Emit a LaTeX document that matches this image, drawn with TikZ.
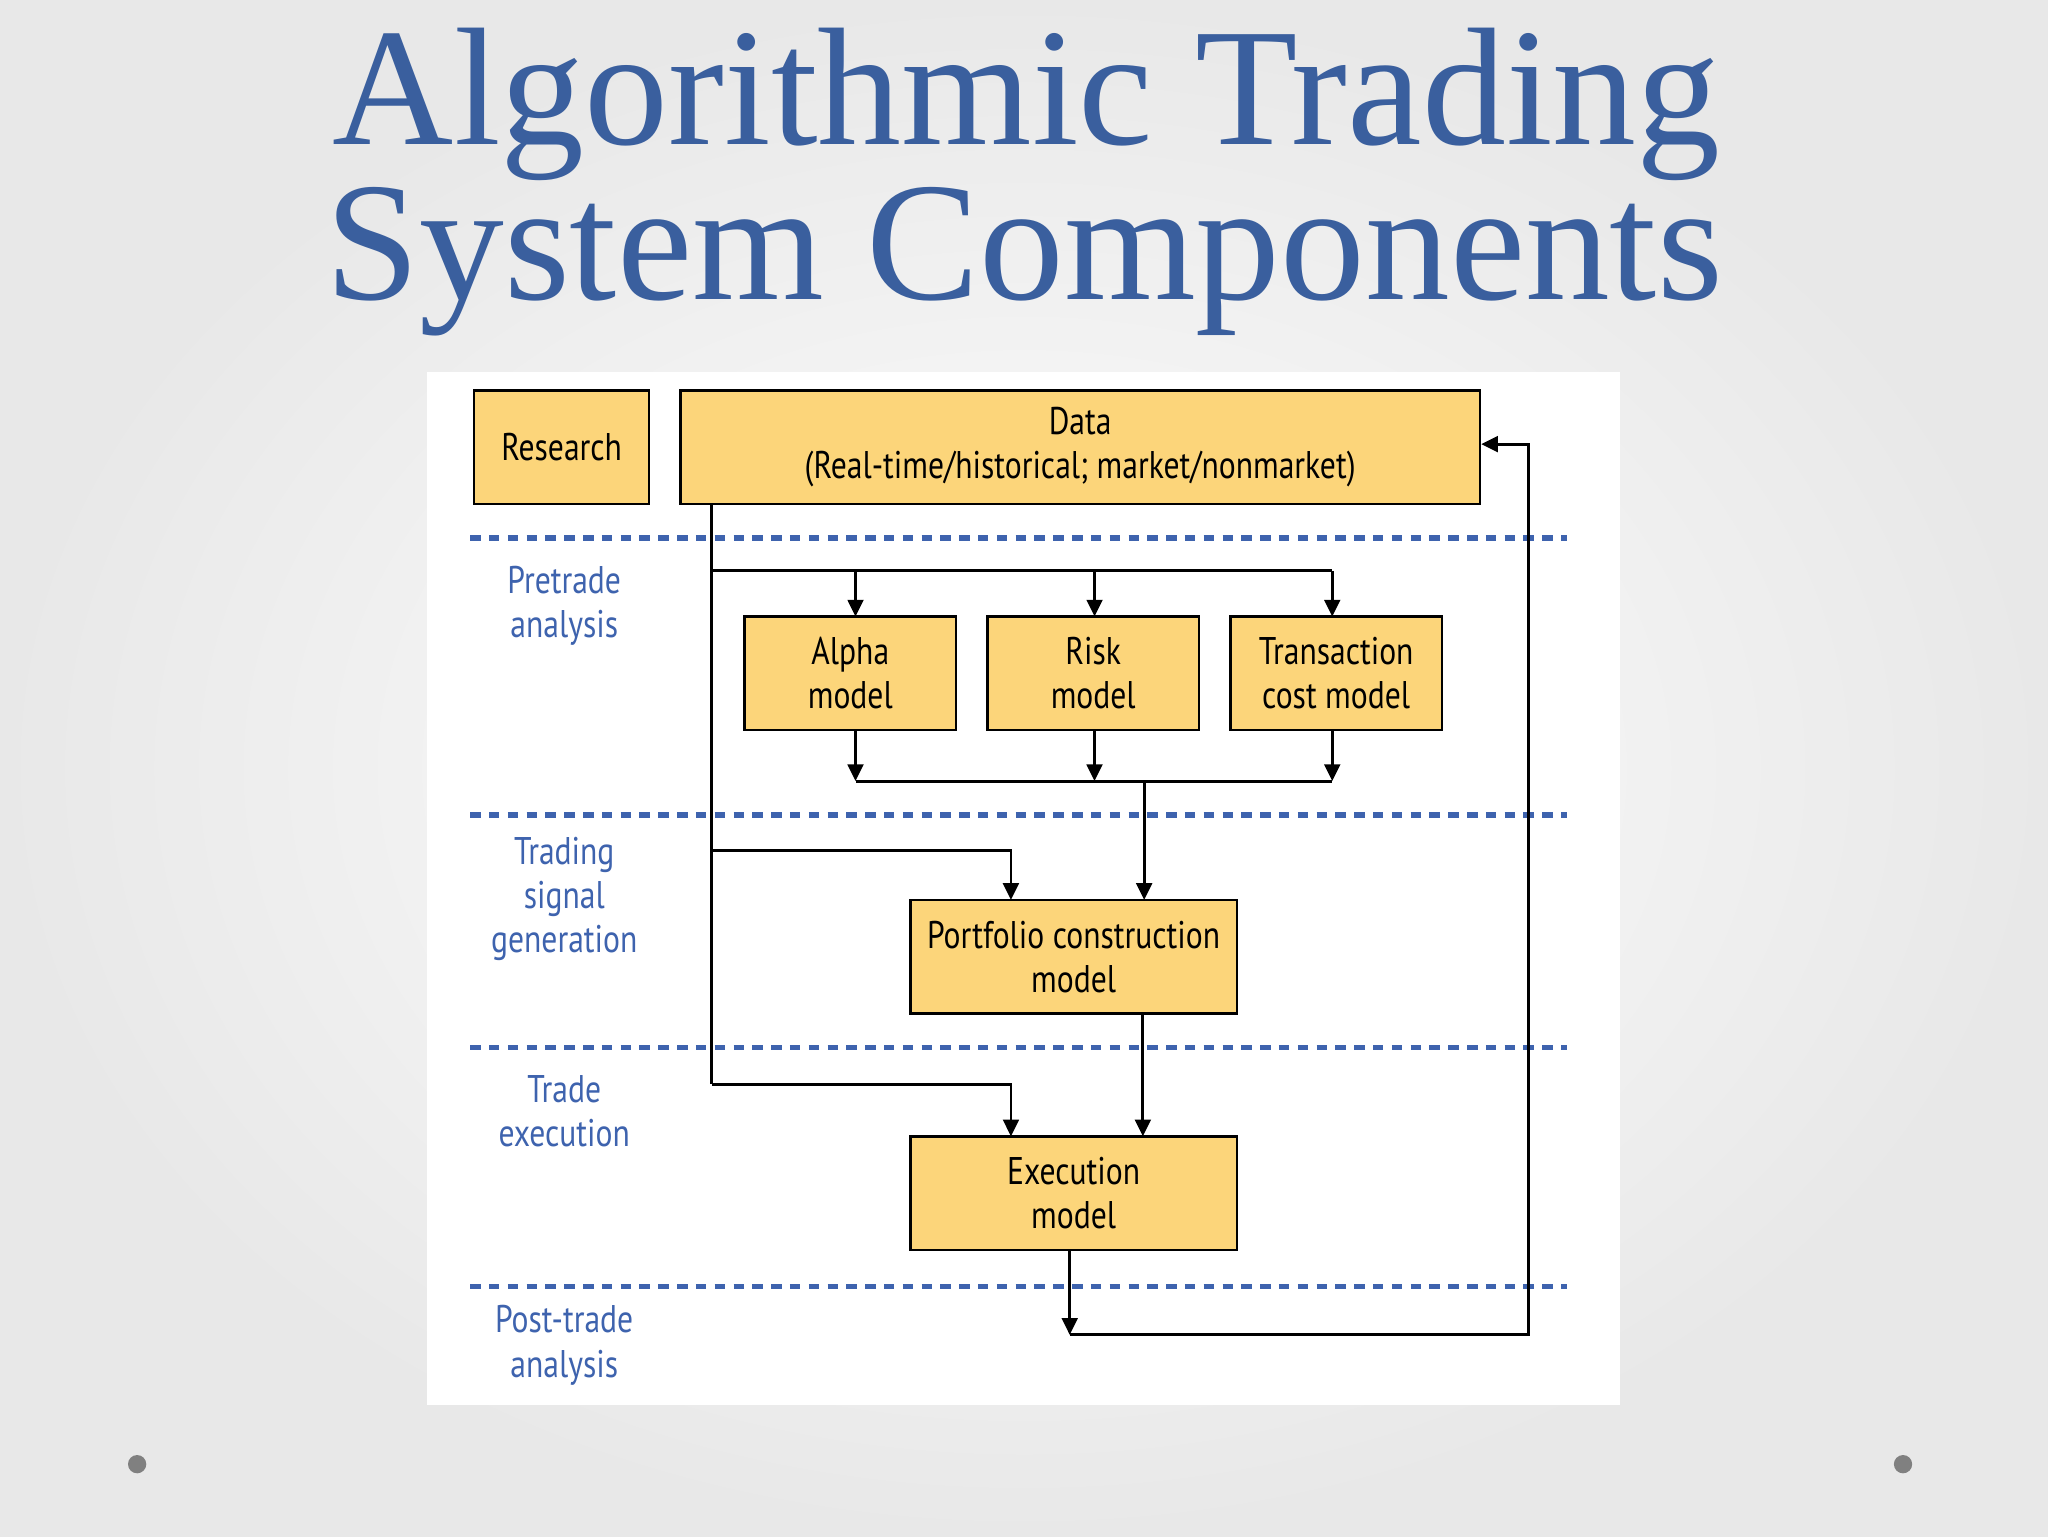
\documentclass[tikz,border=0pt]{standalone}
\usepackage{fontspec}
\setsansfont{PT Sans}[FakeStretch=0.82]
\newfontfamily\titlefont{Liberation Serif}
\usetikzlibrary{arrows.meta,calc}
\definecolor{boxy}{HTML}{FCD57A}
\definecolor{tblue}{HTML}{3A5F9E}
\definecolor{lblue}{HTML}{3E63AE}
\tikzset{
 mbox/.style={draw=black,line width=0.5mm,fill=boxy,inner sep=0,align=center,font=\sffamily\fontsize{21}{24}\selectfont},
 lab/.style={text=lblue,align=center,font=\sffamily\fontsize{21}{24}\selectfont},
 conn/.style={line width=0.55mm},
 arr/.style={conn,-{Triangle[length=3.2mm,width=3mm]}},
 sep/.style={lblue,line width=1.1mm,dash pattern=on 2mm off 1.6mm}
}
\begin{document}
\begin{tikzpicture}[x=0.25mm,y=-0.25mm]
\useasboundingbox (0,0) rectangle (1568,1176);
\shade[inner color=white,outer color=black!9] (0,0) rectangle (1568,1176);
\fill[white] (327,285) rectangle (1240,1076);
\node[text=tblue,inner sep=0] (t1) at (786,80) {\resizebox{265.5mm}{!}{\titlefont\fontsize{84}{100}\selectfont Algorithmic Trading}};
\node[text=tblue,inner sep=0] (t2) at (784,200) {\resizebox{267.5mm}{!}{\titlefont\fontsize{84}{100}\selectfont System Components}};
\fill[gray] (105,1121) circle (7);
\fill[gray] (1457,1121) circle (7);
% separators
\foreach \yy in {412,624,802,985} \draw[sep] (360,\yy) -- (1200,\yy);
% boxes
\node[mbox,minimum width=134*0.25mm,minimum height=87*0.25mm] (res) at (430,342.5) {Research};
\node[mbox,minimum width=612*0.25mm,minimum height=87*0.25mm] (data) at (827,342.5) {Data\\(Real-time/historical; market/nonmarket)};
\node[mbox,minimum width=162*0.25mm,minimum height=87*0.25mm] (alpha) at (651,515.5) {Alpha\\model};
\node[mbox,minimum width=162*0.25mm,minimum height=87*0.25mm] (risk) at (837,515.5) {Risk\\model};
\node[mbox,minimum width=162*0.25mm,minimum height=87*0.25mm] (tc) at (1023,515.5) {Transaction\\cost model};
\node[mbox,minimum width=250*0.25mm,minimum height=87*0.25mm] (port) at (822,732.5) {Portfolio construction\\model};
\node[mbox,minimum width=250*0.25mm,minimum height=87*0.25mm] (exec) at (822,913.5) {Execution\\model};
% labels
\node[lab] (l1) at (432,464) {Pretrade\\analysis};
\node[lab] (l2) at (432,688) {Trading\\signal\\generation};
\node[lab] (l3) at (432,851) {Trade\\execution};
\node[lab] (l4) at (432,1030) {Post-trade\\analysis};
% connectors
\coordinate (d0) at (545,386);
\coordinate (b1) at (545,437);
\coordinate (b2) at (545,651);
\coordinate (b3) at (545,830);
\draw[conn] (d0) -- (b3);
\draw[conn] (b1) -- (1020,437);
\draw[arr] (655,437) -- (655,472);
\draw[arr] (838,437) -- (838,472);
\draw[arr] (1020,437) -- (1020,472);
\draw[arr] (655,559) -- (655,598);
\draw[arr] (838,559) -- (838,598);
\draw[arr] (1020,559) -- (1020,598);
\draw[conn] (655,598) -- (1020,598);
\draw[arr] (876,598) -- (876,689);
\draw[arr] (b2) -- (774,651) -- (774,689);
\draw[arr] (b3) -- (774,830) -- (774,870);
\draw[arr] (875,776) -- (875,870);
\coordinate (e1) at (819,1022);
\draw[arr] (819,957) -- (e1);
\draw[arr] (e1) -- (1170,1022) -- (1170,340) -- (data.east |- 0,340);
\end{tikzpicture}
\end{document}
